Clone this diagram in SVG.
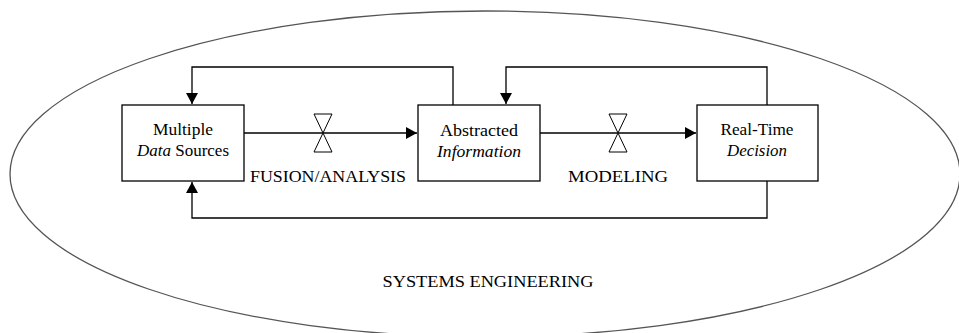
<svg xmlns="http://www.w3.org/2000/svg" width="959" height="333" viewBox="0 0 959 333">
<style>
.box{fill:#fff;stroke:#000;stroke-width:1.3}
.ln{fill:none;stroke:#000;stroke-width:1.3}
.bow{fill:#fff;stroke:#000;stroke-width:1}
</style>
<defs>
<marker id="ah" markerWidth="12" markerHeight="12" refX="11" refY="6" orient="auto" markerUnits="userSpaceOnUse">
<path d="M0,0 L11,6 L0,12 Z" fill="#000"/>
</marker>
</defs>
<rect width="959" height="333" fill="#fff"/>
<ellipse id="boundary" cx="485" cy="174" rx="475" ry="163" fill="none" stroke="#555" stroke-width="1.3"/>
<g id="connectors">
<path class="ln" d="M244,133 H417" marker-end="url(#ah)"/>
<path class="ln" d="M540,133 H696" marker-end="url(#ah)"/>
<path class="ln" d="M453,105 V67 H192 V104" marker-end="url(#ah)"/>
<path class="ln" d="M767,105 V67 H506 V104" marker-end="url(#ah)"/>
<path class="ln" d="M767,181 V218 H192 V182" marker-end="url(#ah)"/>
<path class="bow" d="M314,114 H332 L314,152 H332 Z"/>
<path class="bow" d="M609,114 H627 L609,152 H627 Z"/>
</g>
<g id="node-sources" font-family="Liberation Serif, serif" font-size="17" text-anchor="middle" fill="#000">
<rect class="box" x="122" y="105" width="122" height="76"/>
<text x="183" y="135" textLength="60" lengthAdjust="spacingAndGlyphs">Multiple</text>
<text x="183" y="156" textLength="92" lengthAdjust="spacingAndGlyphs"><tspan font-style="italic">Data</tspan> Sources</text>
</g>
<g id="node-info" font-family="Liberation Serif, serif" font-size="17" text-anchor="middle" fill="#000">
<rect class="box" x="418" y="105" width="122" height="76"/>
<text x="479" y="136" textLength="78" lengthAdjust="spacingAndGlyphs">Abstracted</text>
<text x="479" y="157" font-style="italic" textLength="84" lengthAdjust="spacingAndGlyphs">Information</text>
</g>
<g id="node-decision" font-family="Liberation Serif, serif" font-size="17" text-anchor="middle" fill="#000">
<rect class="box" x="697" y="105" width="121" height="76"/>
<text x="757" y="135" textLength="73" lengthAdjust="spacingAndGlyphs">Real-Time</text>
<text x="757" y="156" font-style="italic" textLength="60" lengthAdjust="spacingAndGlyphs">Decision</text>
</g>
<g id="labels" font-family="Liberation Serif, serif" font-size="17" text-anchor="middle" fill="#000">
<text x="328" y="182" textLength="156" lengthAdjust="spacingAndGlyphs">FUSION/ANALYSIS</text>
<text x="618" y="182" textLength="100" lengthAdjust="spacingAndGlyphs">MODELING</text>
<text x="488" y="287" font-size="16" textLength="211" lengthAdjust="spacingAndGlyphs">SYSTEMS ENGINEERING</text>
</g>
</svg>
